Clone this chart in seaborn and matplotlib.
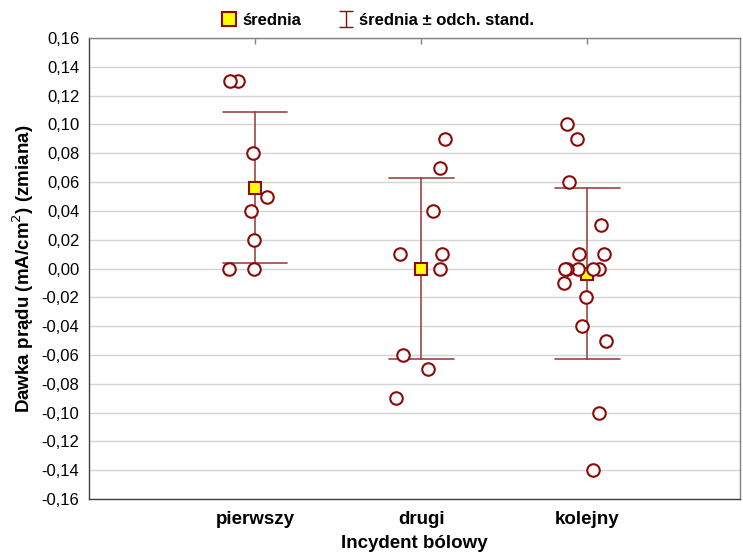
import numpy as np
import pandas as pd
import matplotlib
matplotlib.use("Agg")
import matplotlib.pyplot as plt
import seaborn as sns
from matplotlib.lines import Line2D
from matplotlib.collections import LineCollection
from matplotlib.container import ErrorbarContainer
from matplotlib.ticker import FuncFormatter, MultipleLocator

# dane
kategorie = ["pierwszy", "drugi", "kolejny"]
pierwszy = [0.13, 0.13, 0.08, 0.05, 0.04, 0.02, 0.00, 0.00]
drugi = [0.09, 0.07, 0.04, 0.01, 0.01, 0.00, -0.06, -0.07, -0.09]
kolejny = [0.10, 0.09, 0.06, 0.03, 0.01, 0.01, 0.00, 0.00, 0.00, 0.00, 0.00,
           -0.01, -0.02, -0.04, -0.05, -0.10, -0.14]

data = pd.DataFrame({
    "grupa": ["pierwszy"] * len(pierwszy) + ["drugi"] * len(drugi) + ["kolejny"] * len(kolejny),
    "dawka": pierwszy + drugi + kolejny,
})

sns.set_style("white")
plt.rcParams["font.family"] = ["Liberation Sans", "DejaVu Sans"]
plt.rcParams["text.color"] = "black"
plt.rcParams["axes.labelcolor"] = "black"
plt.rcParams["xtick.color"] = "black"
plt.rcParams["ytick.color"] = "black"

ciemny = "#8b0a0a"

fig = plt.figure(figsize=(7.43, 5.6), dpi=100)
ax = fig.add_axes([0.1198, 0.109, 0.8762, 0.823])

# srednia +- odch. stand.
sns.pointplot(data=data, x="grupa", y="dawka", order=kategorie, errorbar="sd",
              color=ciemny, markers="s", linestyles="none", capsize=0.39,
              err_kws={"linewidth": 1.2, "color": "#a04545"},
              markersize=9, markeredgewidth=1.5, ax=ax, zorder=3)
for ln in ax.lines:
    if ln.get_marker() == "s":
        ln.set_markerfacecolor("#ffff00")
        ln.set_markeredgecolor(ciemny)
        ln.set_zorder(4)

# punkty
np.random.seed(11)
sns.stripplot(data=data, x="grupa", y="dawka", order=kategorie, jitter=0.16,
              color="white", edgecolor=ciemny, linewidth=1.5, size=9,
              ax=ax, zorder=5)

ax.set_xlim(-1, 2.92)
ax.set_ylim(-0.16, 0.16)
ax.yaxis.set_major_locator(MultipleLocator(0.02))
ax.yaxis.set_major_formatter(FuncFormatter(
    lambda v, p: ("%.2f" % (0 if abs(v) < 1e-9 else v)).replace(".", ",")))
ax.grid(axis="y", color="#d4d4d4", linewidth=1)
ax.set_axisbelow(True)

for s in ax.spines.values():
    s.set_visible(True)
    s.set_color("#808080")
    s.set_linewidth(1)
ax.spines["left"].set_color("#404040")
ax.spines["bottom"].set_color("#404040")

ax.tick_params(axis="y", direction="out", length=5, width=1, color="#404040",
               labelsize=12, pad=2)
ax.tick_params(axis="x", direction="in", length=4, width=1, color="#808080",
               top=True, labelsize=13.5, pad=9)
for t in ax.get_xticklabels():
    t.set_fontweight("bold")

ax.set_xlabel("Incydent bólowy", fontsize=13.5, fontweight="bold", labelpad=5)
ax.set_ylabel("Dawka prądu (mA/cm$^2$) (zmiana)", fontsize=13.5, fontweight="bold", labelpad=4)

# legenda
h1 = Line2D([], [], marker="s", linestyle="none", markersize=10,
            markerfacecolor="#ffff00", markeredgecolor=ciemny, markeredgewidth=1.5)
cap = Line2D([], [], marker="_", linestyle="none", color=ciemny, markersize=10,
             markeredgewidth=1)
bar = LineCollection([], colors=ciemny, linewidths=1)
h2 = ErrorbarContainer((None, (cap, cap), (bar,)), has_xerr=False, has_yerr=True)
ax.legend([h1, h2], ["średnia", "średnia ± odch. stand."], ncol=2, frameon=False,
          loc="lower center", bbox_to_anchor=(0.443, 0.99), prop={"weight": "bold", "size": 12},
          handletextpad=0.3, columnspacing=2.2, handlelength=1.0)

fig.savefig("out.png", dpi=100)
